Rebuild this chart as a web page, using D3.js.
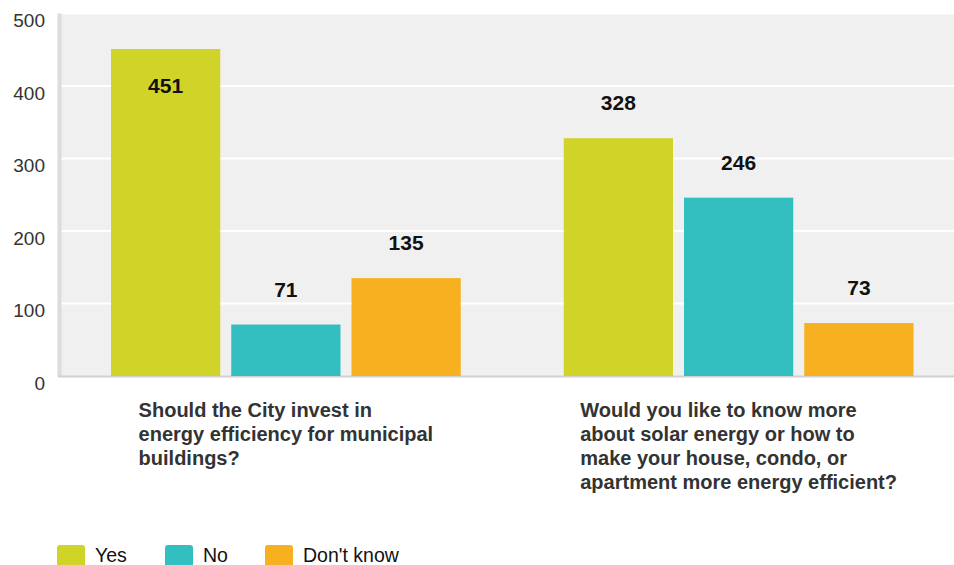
<!DOCTYPE html>
<html><head><meta charset="utf-8">
<script src="https://cdn.jsdelivr.net/npm/d3@7"></script>
<style>body{margin:0;background:#fff;overflow:hidden}svg{display:block;font-family:"Liberation Sans",Arial,sans-serif}</style>
</head><body><svg id="c" width="954" height="565"></svg>
<script>
const categories = [
  ["Should the City invest in","energy efficiency for municipal","buildings?"],
  ["Would you like to know more","about solar energy or how to","make your house, condo, or","apartment more energy efficient?"]
];
const seriesNames = ["Yes","No","Don't know"];
const yesValues = [451, 328];
const noValues = [71, 246];
const dontKnowValues = [135, 73];
const yTicks = [0,100,200,300,400,500];
const colors = ["#d0d428","#33bec0","#f7b01f"];
const seriesValues = [yesValues, noValues, dontKnowValues];

const svg = d3.select("#c");
const plotL = 59.5, plotR = 965, plotT = 13.5, plotB = 376;
const x0 = d3.scaleBand().domain([0,1]).range([plotL, plotR]).paddingInner(0).paddingOuter(0);
const x1 = d3.scaleBand().domain([0,1,2]).range([51.5, x0.bandwidth()-51.5]).paddingInner(11/120).paddingOuter(0);
const y = d3.scaleLinear().domain([0,500]).range([plotB, plotT]);

svg.append("rect").attr("x",61).attr("y",plotT).attr("width",954-61).attr("height",plotB-plotT).attr("fill","#f0f0f0");
svg.append("g").selectAll("line").data(yTicks.filter(d=>d>0)).join("line")
  .attr("x1",61).attr("x2",954).attr("y1",d=>y(d)).attr("y2",d=>y(d))
  .attr("stroke","#fff").attr("stroke-width",2);
// y labels
svg.append("g").selectAll("text").data(yTicks).join("text")
  .attr("x",45).attr("y",d=>y(d)+7).attr("dy","0.35em").attr("text-anchor","end")
  .attr("font-size",19).attr("fill","#333").text(d=>d);
// axes lines
svg.append("line").attr("x1",59.5).attr("x2",59.5).attr("y1",plotT).attr("y2",plotB+1).attr("stroke","#dcdcdc").attr("stroke-width",4);
svg.append("line").attr("x1",58).attr("x2",954).attr("y1",plotB+0.5).attr("y2",plotB+0.5).attr("stroke","#d0d0d0").attr("stroke-width",2);

const groups = svg.append("g").selectAll("g").data([0,1]).join("g")
  .attr("transform",i=>`translate(${x0(i)},0)`);
groups.selectAll("rect.bar").data(i=>seriesValues.map((s,k)=>({k,v:s[i]}))).join("rect")
  .attr("class","bar").attr("x",d=>x1(d.k)).attr("width",x1.bandwidth())
  .attr("y",d=>y(d.v)).attr("height",d=>y(0)-y(d.v)).attr("fill",d=>colors[d.k]);
groups.selectAll("text.val").data(i=>seriesValues.map((s,k)=>({k,v:s[i]}))).join("text")
  .attr("class","val").attr("x",d=>x1(d.k)+x1.bandwidth()/2)
  .attr("y",d=>{const top=y(d.v)-28; return top-16<plotT? y(d.v)+44 : top;})
  .attr("text-anchor","middle").attr("font-size",21).attr("font-weight","bold").attr("fill","#111")
  .text(d=>d.v);

// category labels
const catG = svg.append("g");
categories.forEach((lines,i)=>{
  const t = catG.append("text").attr("font-size",20).attr("font-weight","bold").attr("fill","#333");
  lines.forEach((ln,j)=>t.append("tspan").attr("y",417+j*24).text(ln));
  let w = 0;
  t.selectAll("tspan").each(function(){w=Math.max(w,this.getComputedTextLength());});
  const left = x0(i)+x0.bandwidth()/2 - w/2;
  t.selectAll("tspan").attr("x",left);
});

// legend
const legX = [57,165,265];
const leg = svg.append("g").selectAll("g").data(seriesNames).join("g")
  .attr("transform",(d,i)=>`translate(${legX[i]},545)`);
leg.append("rect").attr("width",28).attr("height",26).attr("rx",3).attr("fill",(d,i)=>colors[i]);
leg.append("text").attr("x",38).attr("y",17).attr("font-size",19.5).attr("fill","#111").text(d=>d);
</script></body></html>
